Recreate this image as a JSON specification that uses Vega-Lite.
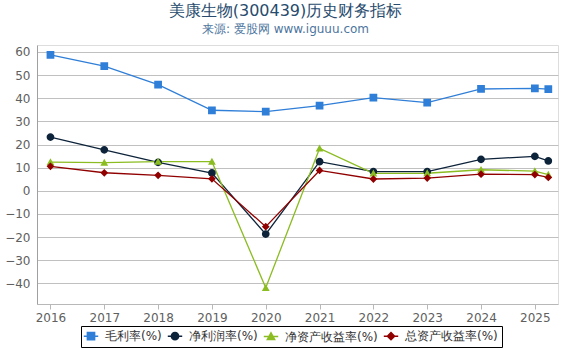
{
  "$schema": "https://vega.github.io/schema/vega-lite/v6.json",
  "width": 521,
  "height": 259,
  "autosize": {"type": "none"},
  "padding": {"left": 37, "top": 45, "right": 12, "bottom": 46},
  "background": "white",
  "title": {
    "text": "美康生物(300439)历史财务指标",
    "subtitle": "来源: 爱股网 www.iguuu.com",
    "font": "DejaVu Sans",
    "fontSize": 16,
    "fontWeight": "normal",
    "color": "#274b6d",
    "subtitleFont": "DejaVu Sans",
    "subtitleFontSize": 12,
    "subtitleColor": "#4d759e",
    "subtitlePadding": 5,
    "anchor": "middle",
    "offset": 10,
    "dx": -12
  },
  "data": {
    "values": [
      {"year": 2016, "series": "毛利率(%)", "value": 58.7},
      {"year": 2017, "series": "毛利率(%)", "value": 53.9},
      {"year": 2018, "series": "毛利率(%)", "value": 45.9},
      {"year": 2019, "series": "毛利率(%)", "value": 34.8},
      {"year": 2020, "series": "毛利率(%)", "value": 34.2},
      {"year": 2021, "series": "毛利率(%)", "value": 36.8},
      {"year": 2022, "series": "毛利率(%)", "value": 40.3},
      {"year": 2023, "series": "毛利率(%)", "value": 38.1},
      {"year": 2024, "series": "毛利率(%)", "value": 44.0},
      {"year": 2025, "series": "毛利率(%)", "value": 44.3},
      {"year": 2025.25, "series": "毛利率(%)", "value": 43.9},
      {"year": 2016, "series": "净利润率(%)", "value": 23.2},
      {"year": 2017, "series": "净利润率(%)", "value": 17.7},
      {"year": 2018, "series": "净利润率(%)", "value": 12.3},
      {"year": 2019, "series": "净利润率(%)", "value": 7.7},
      {"year": 2020, "series": "净利润率(%)", "value": -18.7},
      {"year": 2021, "series": "净利润率(%)", "value": 12.6},
      {"year": 2022, "series": "净利润率(%)", "value": 8.3},
      {"year": 2023, "series": "净利润率(%)", "value": 8.3},
      {"year": 2024, "series": "净利润率(%)", "value": 13.6},
      {"year": 2025, "series": "净利润率(%)", "value": 14.9},
      {"year": 2025.25, "series": "净利润率(%)", "value": 12.9},
      {"year": 2016, "series": "净资产收益率(%)", "value": 12.4},
      {"year": 2017, "series": "净资产收益率(%)", "value": 12.2},
      {"year": 2018, "series": "净资产收益率(%)", "value": 12.6},
      {"year": 2019, "series": "净资产收益率(%)", "value": 12.6},
      {"year": 2020, "series": "净资产收益率(%)", "value": -41.9},
      {"year": 2021, "series": "净资产收益率(%)", "value": 18.3},
      {"year": 2022, "series": "净资产收益率(%)", "value": 7.5},
      {"year": 2023, "series": "净资产收益率(%)", "value": 7.6},
      {"year": 2024, "series": "净资产收益率(%)", "value": 9.1},
      {"year": 2025, "series": "净资产收益率(%)", "value": 8.5},
      {"year": 2025.25, "series": "净资产收益率(%)", "value": 7.0},
      {"year": 2016, "series": "总资产收益率(%)", "value": 10.6},
      {"year": 2017, "series": "总资产收益率(%)", "value": 7.8},
      {"year": 2018, "series": "总资产收益率(%)", "value": 6.7},
      {"year": 2019, "series": "总资产收益率(%)", "value": 5.2},
      {"year": 2020, "series": "总资产收益率(%)", "value": -15.5},
      {"year": 2021, "series": "总资产收益率(%)", "value": 8.8},
      {"year": 2022, "series": "总资产收益率(%)", "value": 5.1},
      {"year": 2023, "series": "总资产收益率(%)", "value": 5.5},
      {"year": 2024, "series": "总资产收益率(%)", "value": 7.2},
      {"year": 2025, "series": "总资产收益率(%)", "value": 7.0},
      {"year": 2025.25, "series": "总资产收益率(%)", "value": 5.8}
    ]
  },
  "encoding": {
    "x": {
      "field": "year",
      "type": "quantitative",
      "scale": {"domain": [2015.75, 2025.43], "nice": false, "zero": false},
      "axis": {
        "title": null,
        "values": [2016, 2017, 2018, 2019, 2020, 2021, 2022, 2023, 2024, 2025],
        "format": "d",
        "grid": false,
        "ticks": true,
        "tickSize": 5,
        "tickColor": "#b8b8b8",
        "domainColor": "#b8b8b8",
        "labelColor": "#606060",
        "labelFont": "DejaVu Sans",
        "labelFontSize": 12,
        "labelPadding": 3
      }
    },
    "y": {
      "field": "value",
      "type": "quantitative",
      "scale": {"domain": [-48.9, 63], "nice": false, "zero": false},
      "axis": {
        "title": null,
        "values": [-40, -30, -20, -10, 0, 10, 20, 30, 40, 50, 60],
        "grid": true,
        "gridColor": "#c0c0c0",
        "ticks": false,
        "domain": true,
        "domainColor": "#a0a0a0",
        "labelColor": "#606060",
        "labelFont": "DejaVu Sans",
        "labelFontSize": 12,
        "labelPadding": 7
      }
    },
    "color": {
      "field": "series",
      "type": "nominal",
      "scale": {
        "domain": ["毛利率(%)", "净利润率(%)", "净资产收益率(%)", "总资产收益率(%)"],
        "range": ["#2f7ed8", "#0d233a", "#8bbc21", "#910000"]
      },
      "legend": {
        "title": null,
        "orient": "none",
        "direction": "horizontal",
        "legendX": 44,
        "legendY": 281,
        "padding": 4,
        "strokeColor": "#000000",
        "cornerRadius": 0,
        "fillColor": "white",
        "labelFont": "DejaVu Sans",
        "labelFontSize": 12,
        "labelColor": "#333333",
        "symbolSize": 52,
        "symbolStrokeWidth": 1.5,
        "labelOffset": 8,
        "columnPadding": 2
      }
    }
  },
  "layer": [
    {"mark": {"type": "line", "strokeWidth": 1.3}},
    {
      "mark": {"type": "point", "filled": true, "opacity": 1, "size": 60},
      "encoding": {
        "shape": {
          "field": "series",
          "type": "nominal",
          "legend": null,
          "scale": {
            "domain": ["毛利率(%)", "净利润率(%)", "净资产收益率(%)", "总资产收益率(%)"],
            "range": ["M-2,0H2M-1,-1H1V1H-1Z", "M-2,0H2M1,0A1,1,0,1,1,-1,0A1,1,0,1,1,1,0Z", "M-2,0H2M0,-1L1,0.8L-1,0.8Z", "M-2,0H2M0,-1L1,0L0,1L-1,0Z"]
          }
        }
      }
    }
  ]
}
